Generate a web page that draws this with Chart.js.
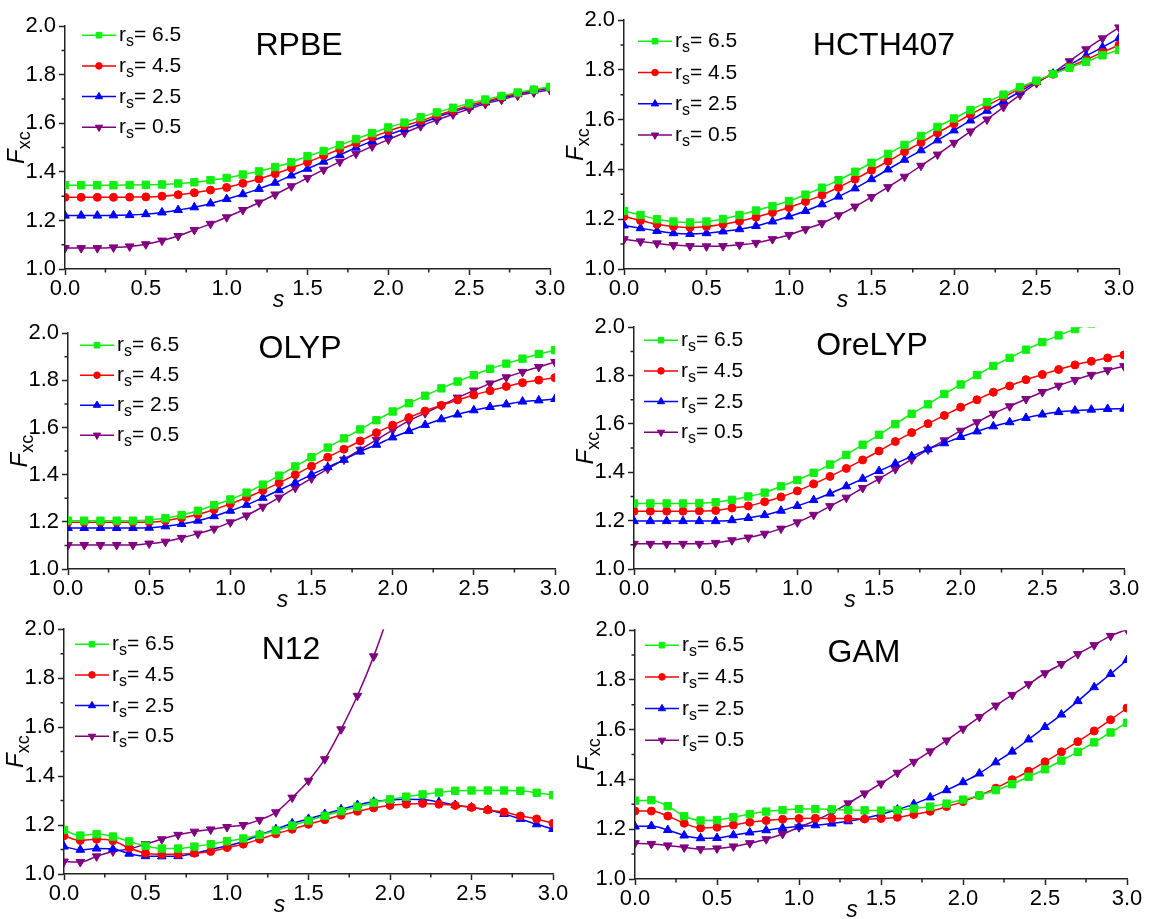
<!DOCTYPE html>
<html>
<head>
<meta charset="utf-8">
<title>Fxc enhancement factors</title>
<script src="https://cdn.jsdelivr.net/npm/chart.js@4/dist/chart.umd.min.js"></script>
<style>
  body { margin: 0; background: #fff; }
  #page { position: relative; width: 1151px; height: 919px; overflow: hidden; background: #fff; }
  .panel { position: absolute; }
</style>
</head>
<body>
<div id="page"></div>
<script>
// reduced gradient s
const S = [0.0, 0.1, 0.2, 0.3, 0.4, 0.5, 0.6, 0.7, 0.8, 0.9, 1.0, 1.1, 1.2, 1.3, 1.4, 1.5,
           1.6, 1.7, 1.8, 1.9, 2.0, 2.1, 2.2, 2.3, 2.4, 2.5, 2.6, 2.7, 2.8, 2.9, 3.0];
const X_TICKS = [0.0, 0.5, 1.0, 1.5, 2.0, 2.5, 3.0];
const X_MINOR = [0.25, 0.75, 1.25, 1.75, 2.25, 2.75];
const Y_TICKS = [1.0, 1.2, 1.4, 1.6, 1.8, 2.0];
const Y_MINOR = [1.1, 1.3, 1.5, 1.7, 1.9];
const RS_LABELS = ['6.5', '4.5', '2.5', '0.5'];
const FUNCTIONALS = ['RPBE', 'HCTH407', 'OLYP', 'OreLYP', 'N12', 'GAM'];

// Fxc(s) per functional, one array per rs
const RPBE_65 = [1.345,1.345,1.345,1.345,1.346,1.347,1.348,1.352,1.357,1.366,1.375,1.389,1.402,1.420,1.440,1.465,1.486,1.510,1.535,1.560,1.583,1.603,1.625,1.645,1.664,1.682,1.698,1.713,1.727,1.739,1.750];
const RPBE_45 = [1.295,1.295,1.295,1.295,1.296,1.297,1.300,1.306,1.314,1.325,1.336,1.353,1.371,1.392,1.416,1.440,1.467,1.493,1.518,1.543,1.568,1.590,1.610,1.633,1.653,1.674,1.690,1.708,1.723,1.737,1.748];
const RPBE_25 = [1.220,1.220,1.220,1.221,1.222,1.226,1.233,1.243,1.254,1.270,1.288,1.308,1.330,1.355,1.385,1.413,1.442,1.470,1.500,1.527,1.553,1.576,1.600,1.625,1.647,1.668,1.686,1.704,1.720,1.734,1.745];
const RPBE_05 = [1.086,1.086,1.086,1.089,1.093,1.102,1.117,1.136,1.161,1.186,1.213,1.243,1.274,1.307,1.341,1.375,1.409,1.442,1.475,1.505,1.533,1.561,1.588,1.614,1.637,1.659,1.680,1.697,1.714,1.727,1.737];

const HCTH_65 = [1.233,1.217,1.200,1.191,1.187,1.191,1.201,1.217,1.235,1.253,1.273,1.299,1.327,1.357,1.391,1.427,1.463,1.499,1.535,1.571,1.605,1.639,1.671,1.701,1.731,1.757,1.784,1.809,1.833,1.859,1.880];
const HCTH_45 = [1.211,1.195,1.180,1.171,1.167,1.171,1.180,1.192,1.208,1.227,1.247,1.271,1.297,1.328,1.361,1.397,1.433,1.471,1.508,1.547,1.584,1.621,1.657,1.691,1.724,1.753,1.783,1.813,1.841,1.871,1.900];
const HCTH_25 = [1.175,1.164,1.153,1.144,1.141,1.144,1.151,1.160,1.173,1.191,1.211,1.233,1.260,1.291,1.324,1.361,1.400,1.439,1.477,1.517,1.557,1.597,1.636,1.675,1.713,1.751,1.785,1.820,1.857,1.891,1.928];
const HCTH_05 = [1.120,1.111,1.103,1.096,1.092,1.091,1.092,1.097,1.105,1.120,1.137,1.160,1.184,1.216,1.251,1.289,1.329,1.371,1.415,1.460,1.507,1.553,1.601,1.651,1.700,1.747,1.788,1.835,1.883,1.927,1.971];

const OLYP_65 = [1.205,1.205,1.205,1.205,1.205,1.208,1.215,1.229,1.247,1.271,1.295,1.324,1.358,1.396,1.435,1.474,1.515,1.554,1.592,1.631,1.668,1.703,1.735,1.766,1.795,1.822,1.849,1.871,1.892,1.912,1.928];
const OLYP_45 = [1.198,1.198,1.198,1.198,1.198,1.199,1.205,1.217,1.231,1.252,1.276,1.303,1.333,1.365,1.400,1.436,1.474,1.508,1.543,1.578,1.610,1.642,1.670,1.694,1.717,1.738,1.756,1.774,1.790,1.801,1.811];
const OLYP_25 = [1.174,1.174,1.174,1.174,1.174,1.175,1.181,1.191,1.205,1.224,1.247,1.272,1.302,1.334,1.366,1.400,1.432,1.463,1.498,1.527,1.558,1.585,1.611,1.635,1.655,1.673,1.687,1.698,1.710,1.715,1.721];
const OLYP_05 = [1.102,1.102,1.102,1.102,1.102,1.108,1.116,1.132,1.150,1.171,1.198,1.227,1.264,1.303,1.344,1.384,1.425,1.464,1.506,1.548,1.589,1.628,1.661,1.694,1.727,1.757,1.787,1.813,1.836,1.857,1.878];

const ORELYP_65 = [1.271,1.271,1.271,1.271,1.272,1.276,1.286,1.300,1.316,1.342,1.368,1.398,1.432,1.472,1.514,1.555,1.599,1.642,1.681,1.724,1.763,1.802,1.840,1.873,1.907,1.938,1.966,1.992,2.015,2.035,2.052];
const ORELYP_45 = [1.239,1.239,1.239,1.239,1.240,1.242,1.252,1.261,1.278,1.298,1.323,1.352,1.383,1.416,1.451,1.488,1.527,1.564,1.601,1.635,1.669,1.700,1.731,1.757,1.783,1.804,1.825,1.844,1.859,1.873,1.885];
const ORELYP_25 = [1.198,1.198,1.198,1.198,1.198,1.198,1.202,1.211,1.223,1.241,1.261,1.285,1.312,1.342,1.373,1.405,1.436,1.466,1.495,1.520,1.546,1.569,1.590,1.607,1.625,1.639,1.649,1.655,1.659,1.662,1.663];
const ORELYP_05 = [1.104,1.104,1.104,1.104,1.104,1.108,1.119,1.130,1.146,1.167,1.193,1.224,1.260,1.295,1.335,1.373,1.413,1.453,1.494,1.532,1.572,1.607,1.642,1.673,1.703,1.732,1.758,1.782,1.803,1.822,1.839];

const N12_65 = [1.180,1.157,1.163,1.153,1.133,1.115,1.104,1.104,1.112,1.122,1.134,1.145,1.160,1.178,1.198,1.218,1.238,1.257,1.275,1.291,1.305,1.316,1.325,1.333,1.340,1.341,1.341,1.341,1.340,1.332,1.322];
const N12_45 = [1.156,1.137,1.142,1.136,1.106,1.085,1.081,1.081,1.085,1.092,1.108,1.122,1.142,1.164,1.183,1.203,1.222,1.240,1.256,1.270,1.280,1.285,1.288,1.285,1.280,1.272,1.262,1.253,1.237,1.225,1.207];
const N12_25 = [1.112,1.099,1.104,1.102,1.083,1.073,1.072,1.073,1.084,1.100,1.115,1.133,1.160,1.183,1.207,1.225,1.245,1.264,1.282,1.295,1.302,1.305,1.304,1.294,1.282,1.272,1.262,1.245,1.225,1.203,1.184];
const N12_05 = [1.051,1.049,1.072,1.092,1.102,1.122,1.142,1.160,1.173,1.182,1.192,1.200,1.221,1.252,1.312,1.381,1.469,1.591,1.728,1.889,2.080,2.300,null,null,null,null,null,null,null,null,null];

const GAM_65 = [1.315,1.317,1.293,1.253,1.235,1.237,1.248,1.261,1.271,1.277,1.281,1.281,1.280,1.277,1.276,1.275,1.277,1.283,1.291,1.303,1.319,1.336,1.357,1.381,1.411,1.441,1.476,1.511,1.549,1.589,1.628];
const GAM_45 = [1.273,1.273,1.253,1.224,1.205,1.208,1.217,1.228,1.235,1.240,1.243,1.244,1.243,1.243,1.241,1.243,1.248,1.259,1.272,1.291,1.311,1.336,1.365,1.399,1.433,1.471,1.511,1.552,1.595,1.640,1.687];
const GAM_25 = [1.211,1.213,1.197,1.175,1.164,1.165,1.176,1.187,1.196,1.205,1.211,1.216,1.223,1.232,1.244,1.260,1.279,1.301,1.328,1.357,1.389,1.424,1.469,1.512,1.561,1.611,1.661,1.715,1.771,1.824,1.880];
const GAM_05 = [1.144,1.141,1.135,1.127,1.120,1.123,1.131,1.144,1.160,1.181,1.208,1.235,1.267,1.304,1.344,1.384,1.427,1.471,1.513,1.557,1.604,1.651,1.697,1.740,1.783,1.827,1.864,1.904,1.940,1.977,2.003];

const SERIES = [
  [RPBE_65, RPBE_45, RPBE_25, RPBE_05],
  [HCTH_65, HCTH_45, HCTH_25, HCTH_05],
  [OLYP_65, OLYP_45, OLYP_25, OLYP_05],
  [ORELYP_65, ORELYP_45, ORELYP_25, ORELYP_05],
  [N12_65, N12_45, N12_25, N12_05],
  [GAM_65, GAM_45, GAM_25, GAM_05]
];

// one style per rs, in legend order
const COLORS = ['#11ee11', '#ff0000', '#0000ff', '#800080'];
const POINT_STYLES = ['rect', 'circle', 'triangle', 'triangle'];
const POINT_ROT = [0, 0, 0, 180];
const POINT_R = [5.2, 4, 5, 5];
const LEGEND_R = [4, 3.3, 4.2, 4.2];

// plot frame of every panel in page pixels, plus legend and title offsets
const FRAMES = [
  { l: 65,  r: 550,  t: 25,  b: 269, legX: 17, legY: 9,  legDy: 30.7, titleX: 234, titleY: 20 },
  { l: 624, r: 1119, t: 19,  b: 269, legX: 14, legY: 21, legDy: 31.3, titleX: 260, titleY: 26 },
  { l: 68,  r: 555,  t: 332, b: 569, legX: 12, legY: 12, legDy: 30,   titleX: 232, titleY: 16 },
  { l: 634, r: 1124, t: 326, b: 569, legX: 10, legY: 13, legDy: 30.7, titleX: 238, titleY: 19 },
  { l: 64,  r: 553,  t: 628, b: 874, legX: 11, legY: 15, legDy: 30.7, titleX: 227, titleY: 21 },
  { l: 635, r: 1127, t: 629, b: 879, legX: 10, legY: 15, legDy: 31.7, titleX: 229, titleY: 23 }
];

const FONT = '"Liberation Sans", Arial, sans-serif';
const AXIS = '#222';
const Y_W = 75, X_H = 55, PAD_T = 15, PAD_R = 25;

const decorations = {
  id: 'decorations',
  afterDraw(chart, args, opts) {
    const { ctx, chartArea: a, scales: { x, y } } = chart;
    const f = opts.frame;
    ctx.save();

    // minor ticks
    ctx.strokeStyle = AXIS;
    ctx.lineWidth = 1.5;
    ctx.beginPath();
    X_MINOR.forEach(v => {
      const px = x.getPixelForValue(v);
      ctx.moveTo(px, a.bottom);
      ctx.lineTo(px, a.bottom + 3.5);
    });
    Y_MINOR.forEach(v => {
      const py = y.getPixelForValue(v);
      ctx.moveTo(a.left, py);
      ctx.lineTo(a.left - 3.5, py);
    });
    ctx.stroke();

    // legend
    chart.data.datasets.forEach((ds, i) => {
      const ry = a.top + f.legY + i * f.legDy;
      const x0 = a.left + f.legX, x1 = x0 + 34;
      ctx.strokeStyle = ds.borderColor;
      ctx.lineWidth = 1.5;
      ctx.beginPath();
      ctx.moveTo(x0, ry);
      ctx.lineTo(x1, ry);
      ctx.stroke();
      ctx.fillStyle = ds.borderColor;
      ctx.lineWidth = 1;
      Chart.helpers.drawPoint(ctx, {
        pointStyle: ds.pointStyle, rotation: ds.pointRotation,
        radius: LEGEND_R[i], borderWidth: 1
      }, (x0 + x1) / 2, ry);

      ctx.fillStyle = '#000';
      ctx.textAlign = 'left';
      ctx.textBaseline = 'alphabetic';
      let tx = x1 + 3;
      const base = ry + 6;
      ctx.font = '21px ' + FONT;
      ctx.fillText('r', tx, base);
      tx += ctx.measureText('r').width;
      ctx.font = '16px ' + FONT;
      ctx.fillText('s', tx, base + 5);
      tx += ctx.measureText('s').width;
      ctx.font = '21px ' + FONT;
      ctx.fillText('= ' + RS_LABELS[i], tx, base);
    });

    // panel title
    ctx.fillStyle = '#000';
    ctx.font = '32px ' + FONT;
    ctx.textAlign = 'center';
    ctx.textBaseline = 'middle';
    ctx.fillText(opts.title, a.left + f.titleX, a.top + f.titleY);

    // x axis title
    ctx.font = 'italic 23px ' + FONT;
    ctx.textBaseline = 'alphabetic';
    ctx.fillText('s', (a.left + a.right) / 2 - 29, a.bottom + 38);

    // y axis title F_xc
    ctx.translate(a.left - 41, (a.top + a.bottom) / 2);
    ctx.rotate(-Math.PI / 2);
    ctx.textAlign = 'left';
    ctx.font = 'italic 24px ' + FONT;
    const wF = ctx.measureText('F').width;
    ctx.font = '18px ' + FONT;
    const wSub = ctx.measureText('xc').width;
    const start = -(wF + wSub) / 2;
    ctx.font = 'italic 24px ' + FONT;
    ctx.fillText('F', start, 0);
    ctx.font = '18px ' + FONT;
    ctx.fillText('xc', start + wF, 6);

    ctx.restore();
  }
};

const page = document.getElementById('page');

FRAMES.forEach((f, p) => {
  const div = document.createElement('div');
  div.className = 'panel';
  const w = (f.r - f.l) + Y_W + PAD_R;
  const h = (f.b - f.t) + PAD_T + X_H;
  div.style.left = (f.l - Y_W) + 'px';
  div.style.top = (f.t - PAD_T) + 'px';
  div.style.width = w + 'px';
  div.style.height = h + 'px';
  const canvas = document.createElement('canvas');
  div.appendChild(canvas);
  page.appendChild(div);

  const datasets = SERIES[p].map((vals, i) => ({
    label: 'rs= ' + RS_LABELS[i],
    data: S.map((s, k) => ({ x: s, y: vals[k] })),
    borderColor: COLORS[i],
    backgroundColor: COLORS[i],
    pointBackgroundColor: COLORS[i],
    pointBorderColor: COLORS[i],
    pointStyle: POINT_STYLES[i],
    pointRotation: POINT_ROT[i],
    pointRadius: POINT_R[i],
    pointBorderWidth: 1,
    borderWidth: 1.5,
    cubicInterpolationMode: 'monotone',
    spanGaps: false,
    clip: 0
  }));

  new Chart(canvas, {
    type: 'line',
    data: { datasets },
    options: {
      responsive: true,
      maintainAspectRatio: false,
      animation: false,
      events: [],
      layout: { padding: { top: PAD_T, right: PAD_R, left: 0, bottom: 0 } },
      plugins: {
        legend: { display: false },
        tooltip: { enabled: false },
        decorations: { frame: f, title: FUNCTIONALS[p] }
      },
      scales: {
        x: {
          type: 'linear',
          min: 0, max: 3,
          afterBuildTicks: sc => { sc.ticks = X_TICKS.map(v => ({ value: v })); },
          afterFit: sc => { sc.height = X_H; },
          ticks: {
            callback: v => v.toFixed(1),
            color: '#000',
            font: { family: FONT, size: 22 },
            padding: 1,
            maxRotation: 0,
            autoSkip: false
          },
          grid: { drawOnChartArea: false, drawTicks: true, tickLength: 6, tickWidth: 1.5, tickColor: AXIS },
          border: { display: true, color: AXIS, width: 1.5 }
        },
        y: {
          type: 'linear',
          min: 1, max: 2,
          afterBuildTicks: sc => { sc.ticks = Y_TICKS.map(v => ({ value: v })); },
          afterFit: sc => { sc.width = Y_W; },
          ticks: {
            callback: v => v.toFixed(1),
            color: '#000',
            font: { family: FONT, size: 22 },
            padding: 3,
            autoSkip: false
          },
          grid: { drawOnChartArea: false, drawTicks: true, tickLength: 6, tickWidth: 1.5, tickColor: AXIS },
          border: { display: true, color: AXIS, width: 1.5 }
        }
      }
    },
    plugins: [decorations]
  });
});
</script>
</body>
</html>
